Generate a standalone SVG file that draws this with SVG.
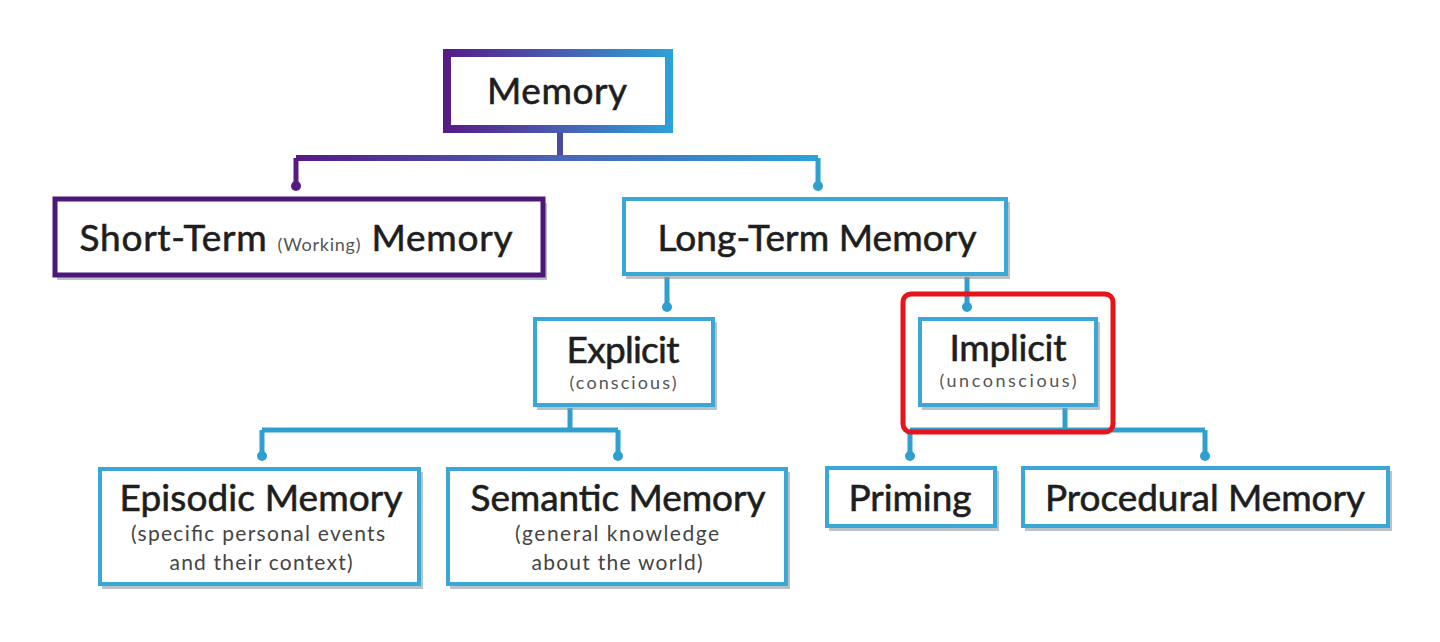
<svg xmlns="http://www.w3.org/2000/svg" width="1440" height="642" viewBox="0 0 1440 642">
<defs>
<linearGradient id="gTop" x1="443" y1="0" x2="673" y2="0" gradientUnits="userSpaceOnUse">
<stop offset="0" stop-color="#561a86"/><stop offset="0.5" stop-color="#4a5cb0"/><stop offset="1" stop-color="#2aa3d8"/>
</linearGradient>
<linearGradient id="gLine" x1="296" y1="0" x2="818" y2="0" gradientUnits="userSpaceOnUse">
<stop offset="0" stop-color="#561a86"/><stop offset="0.5" stop-color="#4a64b4"/><stop offset="1" stop-color="#2aa3d8"/>
</linearGradient>
<marker id="dotP" viewBox="0 0 10 10" refX="5" refY="5" markerWidth="10" markerHeight="10" markerUnits="userSpaceOnUse"><circle cx="5" cy="5" r="5" fill="#561a86"/></marker>
<marker id="dotB" viewBox="0 0 10 10" refX="5" refY="5" markerWidth="10" markerHeight="10" markerUnits="userSpaceOnUse"><circle cx="5" cy="5" r="5" fill="#2e9fcf"/></marker>
<style>
.t{font-family:Lato,"Noto Sans",sans-serif;fill:#1e1e1e;text-anchor:middle}
.big{font-size:37px;stroke:#1e1e1e;stroke-width:0.6}
.sm{font-size:18px;fill:#555}
.sub{font-size:21px;fill:#444}
.box{fill:#fff;stroke:#3aa7d6;stroke-width:4}
.sh{fill:#8a9aa4;opacity:0.6}
.cb{fill:none;stroke:#2e9fcf;stroke-width:5}
</style>
</defs>
<rect width="1440" height="642" fill="#fff"/>
<g id="connectors">
<path d="M560 133 V158" stroke="#4a4aa0" stroke-width="6" fill="none"/>
<path d="M296 158 H818" stroke="url(#gLine)" stroke-width="6" fill="none"/>
<path d="M296 158 V186" stroke="#561a86" stroke-width="5" fill="none" marker-end="url(#dotP)"/>
<path d="M818 158 V186" class="cb" marker-end="url(#dotB)"/>
<path d="M667 277 V307" class="cb" marker-end="url(#dotB)"/>
<path d="M967 277 V307" class="cb" marker-end="url(#dotB)"/>
<path d="M570 408 V430 M262 430 H618" class="cb"/>
<path d="M262 430 V456" class="cb" marker-end="url(#dotB)"/>
<path d="M618 430 V456" class="cb" marker-end="url(#dotB)"/>
<path d="M1065 408 V430 M910 430 H1205" class="cb"/>
<path d="M910 430 V456" class="cb" marker-end="url(#dotB)"/>
<path d="M1205 430 V456" class="cb" marker-end="url(#dotB)"/>
</g>
<g id="memory">
<rect x="447" y="53" width="222" height="76" fill="#fff" stroke="url(#gTop)" stroke-width="8"/>
<text class="t big" x="557" y="104" textLength="140">Memory</text>
</g>
<g id="short-term">
<rect x="57" y="203" width="490" height="77" class="sh"/>
<rect x="55" y="199" width="488" height="76" fill="#fff" stroke="#4b1878" stroke-width="5"/>
<text class="t big" x="296" y="251" textLength="433">Short-Term <tspan style="font-size:18px;fill:#555;stroke:none">(Working)</tspan> Memory</text>
</g>
<g id="long-term">
<rect x="626" y="202" width="384" height="77" class="sh"/>
<rect x="624" y="199" width="382" height="75" class="box"/>
<text class="t big" x="817" y="251" textLength="319">Long-Term Memory</text>
</g>
<g id="explicit">
<rect x="537" y="322" width="180" height="88" class="sh"/>
<rect x="535" y="319" width="178" height="86" class="box"/>
<text class="t big" x="623" y="363" textLength="113">Explicit</text>
<text class="t sm" x="623" y="389" textLength="107">(conscious)</text>
</g>
<g id="implicit">
<rect x="922" y="322" width="178" height="88" class="sh"/>
<rect x="920" y="319" width="176" height="86" class="box"/>
<text class="t big" x="1008" y="361" textLength="117">Implicit</text>
<text class="t sm" x="1008" y="387" textLength="137">(unconscious)</text>
<rect x="903" y="294" width="210" height="138" rx="8" fill="none" stroke="#e8141c" stroke-width="5"/>
</g>
<g id="episodic">
<rect x="102" y="472" width="321" height="117" class="sh"/>
<rect x="100" y="469" width="319" height="115" class="box"/>
<text class="t big" x="261" y="511" textLength="283">Episodic Memory</text>
<text class="t sub" x="258" y="541" textLength="254">(specific personal events</text>
<text class="t sub" x="261" y="570" textLength="183">and their context)</text>
</g>
<g id="semantic">
<rect x="450" y="472" width="340" height="117" class="sh"/>
<rect x="448" y="469" width="338" height="115" class="box"/>
<text class="t big" x="618" y="511" textLength="295">Semantic Memory</text>
<text class="t sub" x="617" y="541" textLength="204">(general knowledge</text>
<text class="t sub" x="617" y="570" textLength="171">about the world)</text>
</g>
<g id="priming">
<rect x="829" y="471" width="170" height="60" class="sh"/>
<rect x="827" y="468" width="168" height="58" class="box"/>
<text class="t big" x="910" y="511" textLength="123">Priming</text>
</g>
<g id="procedural">
<rect x="1025" y="471" width="367" height="60" class="sh"/>
<rect x="1023" y="468" width="365" height="58" class="box"/>
<text class="t big" x="1205" y="511" textLength="320">Procedural Memory</text>
</g>
</svg>
